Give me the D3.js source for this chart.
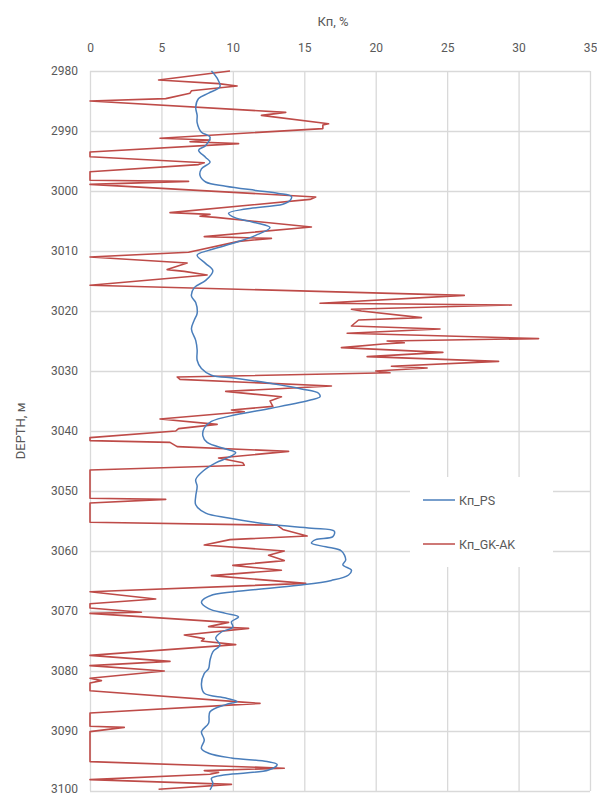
<!DOCTYPE html>
<html>
<head>
<meta charset="utf-8">
<script src="https://cdn.jsdelivr.net/npm/d3@7"></script>
<style>
  html, body { margin: 0; padding: 0; background: #fff; }
  svg { display: block; font-family: Roboto, "Liberation Sans", Arial, sans-serif; }
</style>
</head>
<body>
<svg id="chart" width="597" height="796"></svg>
<script>
// Porosity logs versus depth
const xTicks = [0, 5, 10, 15, 20, 25, 30, 35];
const depthTicks = [2980, 2990, 3000, 3010, 3020, 3030, 3040, 3050, 3060, 3070, 3080, 3090, 3100];
const seriesNames = ["Кп_PS", "Кп_GK-AK"];
const seriesColors = ["#4a7ebb", "#be4b48"];

// Кп_PS: smooth curve
const depthPS = [2980.0, 2981.2, 2982.6, 2983.7, 2984.6, 2986.0, 2987.4, 2988.6, 2990.2, 2991.0, 2992.4, 2993.2, 2994.4, 2995.2, 2996.3, 2997.4, 2998.5, 2999.2, 2999.9, 3000.4, 3000.9, 3001.6, 3002.2, 3003.0, 3003.7, 3004.4, 3005.3, 3006.1, 3007.4, 3008.8, 3009.9, 3010.7, 3012.1, 3013.3, 3014.9, 3016.1, 3017.5, 3018.6, 3020.4, 3021.5, 3023.0, 3024.9, 3026.5, 3028.2, 3029.6, 3030.7, 3031.2, 3032.1, 3033.0, 3033.7, 3034.3, 3034.8, 3036.2, 3037.3, 3038.4, 3039.5, 3040.8, 3041.9, 3043.0, 3043.6, 3044.4, 3045.3, 3046.7, 3048.1, 3049.2, 3050.9, 3052.3, 3053.7, 3054.5, 3055.6, 3056.2, 3056.7, 3057.6, 3058.1, 3058.7, 3059.3, 3060.0, 3061.5, 3062.3, 3063.2, 3064.0, 3064.9, 3065.7, 3066.6, 3067.3, 3068.5, 3069.6, 3070.4, 3071.0, 3071.8, 3072.7, 3073.5, 3074.5, 3075.7, 3076.8, 3078.2, 3079.6, 3080.4, 3082.3, 3083.7, 3084.5, 3085.1, 3085.6, 3086.8, 3088.7, 3090.1, 3091.5, 3092.9, 3093.7, 3094.5, 3095.1, 3095.6, 3096.5, 3097.3, 3097.9, 3098.7, 3099.8];
const valuePS = [8.5, 8.9, 9.1, 8.3, 7.6, 7.4, 7.5, 7.5, 7.8, 8.4, 8.1, 7.6, 8.1, 8.4, 7.8, 7.7, 8.1, 9.5, 11.6, 13.2, 14.1, 14.0, 13.5, 10.9, 9.7, 10.1, 11.6, 12.6, 11.6, 9.9, 8.3, 7.5, 8.1, 8.6, 8.1, 7.3, 7.1, 7.4, 7.5, 7.3, 7.1, 7.4, 7.5, 7.5, 7.8, 8.5, 10.2, 12.7, 14.8, 16.0, 16.1, 15.5, 12.7, 10.2, 8.5, 8.0, 7.9, 8.2, 9.5, 10.2, 9.7, 8.8, 7.9, 7.4, 7.5, 7.4, 7.4, 8.1, 9.7, 12.7, 15.5, 17.1, 17.0, 15.8, 15.5, 16.5, 17.6, 17.9, 17.7, 18.3, 18.1, 16.9, 14.6, 10.9, 8.6, 7.8, 8.3, 9.5, 10.4, 9.9, 10.0, 9.2, 8.8, 9.1, 8.6, 8.4, 8.3, 8.0, 7.8, 8.0, 9.5, 10.3, 9.5, 8.4, 8.3, 7.8, 8.0, 7.8, 8.3, 9.9, 12.4, 13.1, 12.5, 9.5, 8.5, 8.6, 8.4];

// Кп_GK-AK: jagged curve
const depthGK = [2980.0, 2981.5, 2982.1, 2982.5, 2983.3, 2983.7, 2984.6, 2985.0, 2986.9, 2987.4, 2988.8, 2989.0, 2989.6, 2991.2, 2991.5, 2991.8, 2992.1, 2993.5, 2994.3, 2995.3, 2995.6, 2996.8, 2998.2, 2998.4, 2998.9, 3001.0, 3001.4, 3003.6, 3003.9, 3004.2, 3004.4, 3006.0, 3007.6, 3007.9, 3008.4, 3010.2, 3011.0, 3012.0, 3013.1, 3013.4, 3014.0, 3015.7, 3017.4, 3018.7, 3019.0, 3019.7, 3020.0, 3021.1, 3021.5, 3022.5, 3023.0, 3023.7, 3024.6, 3025.0, 3025.3, 3025.5, 3026.1, 3026.9, 3027.6, 3028.4, 3029.2, 3029.5, 3030.0, 3030.3, 3031.0, 3031.4, 3032.5, 3033.4, 3034.3, 3035.0, 3035.9, 3036.5, 3036.8, 3038.0, 3038.9, 3039.6, 3040.0, 3041.1, 3041.6, 3041.9, 3042.6, 3043.4, 3044.5, 3045.3, 3045.7, 3046.5, 3051.2, 3051.4, 3052.0, 3055.2, 3055.7, 3056.4, 3057.5, 3058.1, 3059.0, 3060.0, 3060.7, 3061.6, 3062.4, 3063.2, 3064.1, 3065.4, 3066.8, 3068.0, 3068.8, 3069.5, 3070.2, 3070.4, 3071.9, 3072.6, 3072.9, 3074.0, 3074.6, 3075.0, 3075.6, 3077.4, 3078.4, 3079.1, 3080.0, 3081.2, 3081.6, 3082.0, 3083.3, 3085.4, 3087.0, 3089.2, 3089.4, 3090.1, 3095.1, 3096.2, 3096.6, 3096.9, 3097.2, 3098.1, 3098.9, 3099.7];
const valueGK = [9.8, 4.8, 9.0, 10.3, 7.1, 7.0, 5.3, 0, 13.7, 12.0, 16.7, 16.3, 16.3, 4.9, 8.4, 7.0, 10.4, 0, 0, 8.0, 7.6, 0, 0, 6.9, 0, 15.8, 15.4, 5.6, 8.4, 7.7, 8.8, 15.5, 8.0, 12.7, 10.4, 6.9, 0, 6.8, 5.4, 6.6, 8.2, 0, 26.2, 16.1, 29.5, 18.3, 19.0, 23.2, 18.8, 18.3, 24.5, 18.0, 31.4, 20.8, 22.0, 20.5, 17.6, 24.7, 19.4, 28.6, 21.1, 23.6, 20.0, 21.0, 6.1, 6.3, 16.9, 9.5, 13.4, 12.6, 12.8, 9.9, 10.8, 4.9, 8.9, 6.2, 6.0, 0, 0, 5.6, 6.1, 13.9, 9.0, 10.7, 10.8, 0, 0, 5.3, 0, 0, 13.1, 13.5, 15.2, 9.8, 8.0, 13.6, 12.5, 13.6, 10.0, 13.4, 8.5, 15.1, 0, 4.6, 0, 0, 3.6, 0, 9.7, 8.3, 11.1, 6.6, 8.0, 7.8, 10.2, 0, 5.6, 0, 5.2, 0, 0.8, 0, 0, 11.9, 0, 0, 2.4, 0, 0, 13.6, 8.0, 9.0, 8.4, 0, 9.9, 4.8];

const svg = d3.select("#chart");
const plot = { left: 90, right: 590, top: 71, bottom: 791 };
const textColor = "#595959";
const gridColor = "#d9d9d9";

const x = d3.scaleLinear().domain([0, 35]).range([plot.left, plot.right]);
const y = d3.scaleLinear().domain([2980, 3100]).range([plot.top, plot.bottom]);

// grid
const grid = svg.append("g");
grid.selectAll("line.v").data(xTicks).join("line")
  .attr("x1", d => x(d) + 0.5).attr("x2", d => x(d) + 0.5)
  .attr("y1", plot.top).attr("y2", plot.bottom)
  .attr("stroke", gridColor).attr("stroke-width", 1.3);
grid.selectAll("line.h").data(depthTicks).join("line")
  .attr("y1", d => y(d) + 0.5).attr("y2", d => y(d) + 0.5)
  .attr("x1", plot.left).attr("x2", plot.right)
  .attr("stroke", gridColor).attr("stroke-width", 1.3);

// axes (labels only, grid carries the lines)
const xAxis = svg.append("g")
  .attr("transform", `translate(0,${plot.top})`)
  .call(d3.axisTop(x).tickValues(xTicks).tickSize(0).tickPadding(19));
const yAxis = svg.append("g")
  .attr("transform", `translate(${plot.left},0)`)
  .call(d3.axisLeft(y).tickValues(depthTicks).tickSize(0).tickPadding(12).tickFormat(d3.format("d")));
[xAxis, yAxis].forEach(a => {
  a.select(".domain").remove();
  a.selectAll("text").attr("fill", textColor).style("font-size", "12px")
    .style("font-family", "Roboto, 'Liberation Sans', Arial, sans-serif");
});
// keep the last depth label inside the page
yAxis.selectAll(".tick").filter(d => d === 3100).select("text").attr("dy", "0.1em");

// axis titles
svg.append("text")
  .attr("x", (plot.left + plot.right) / 2 - 7).attr("y", 26)
  .attr("text-anchor", "middle").attr("fill", textColor)
  .style("font-size", "13px").text("Кп, %");
svg.append("text")
  .attr("transform", `translate(25,${(plot.top + plot.bottom) / 2}) rotate(-90)`)
  .attr("text-anchor", "middle").attr("fill", textColor)
  .style("font-size", "13px").text("DEPTH, м");

// curves
const gkPoints = depthGK.map((d, i) => [valueGK[i], d]);
const psPoints = depthPS.map((d, i) => [valuePS[i], d]);

svg.append("path")
  .datum(gkPoints)
  .attr("fill", "none").attr("stroke", seriesColors[1])
  .attr("stroke-width", 1.6).attr("stroke-linejoin", "round")
  .attr("d", d3.line().x(p => x(p[0])).y(p => y(p[1])));

svg.append("path")
  .datum(psPoints)
  .attr("fill", "none").attr("stroke", seriesColors[0])
  .attr("stroke-width", 1.5).attr("stroke-linejoin", "round")
  .attr("d", d3.line().x(p => x(p[0])).y(p => y(p[1])).curve(d3.curveCatmullRom.alpha(0.5)));

// legend
const legend = svg.append("g");
legend.append("rect")
  .attr("x", 410).attr("y", 477).attr("width", 143).attr("height", 90)
  .attr("fill", "#fff");
seriesNames.forEach((name, i) => {
  const ly = 500 + i * 44;
  legend.append("line")
    .attr("x1", 423).attr("x2", 455).attr("y1", ly).attr("y2", ly)
    .attr("stroke", seriesColors[i]).attr("stroke-width", 1.5);
  legend.append("text")
    .attr("x", 459).attr("y", ly + 4.5)
    .attr("fill", textColor).style("font-size", "12.5px").text(name);
});
</script>
</body>
</html>
